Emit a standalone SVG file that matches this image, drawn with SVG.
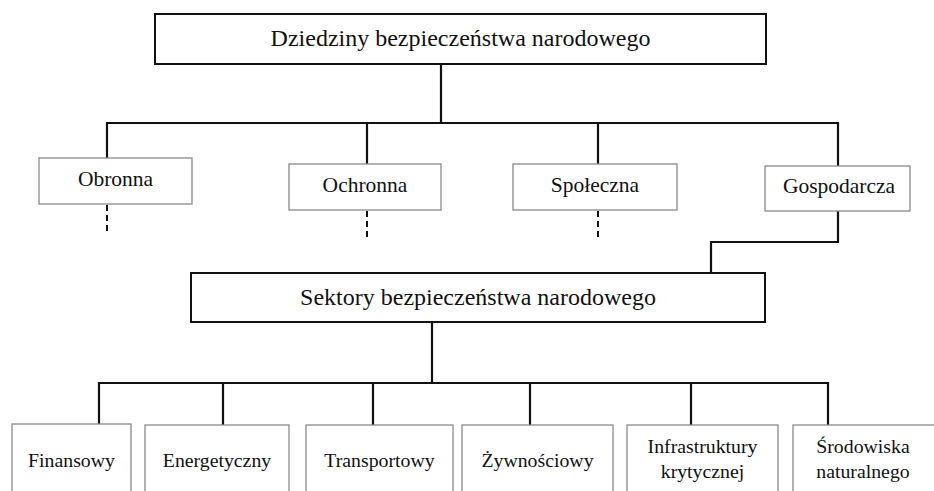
<svg xmlns="http://www.w3.org/2000/svg" width="934" height="491" viewBox="0 0 934 491">
  <style>
    text { font-family: "Liberation Serif", "Times New Roman", serif; fill: #111; text-anchor: middle; }
    .main { fill: #fff; stroke: #111; stroke-width: 2; }
    .sub { fill: #fff; stroke: #8a8a8a; stroke-width: 1.3; }
    .t-main { font-size: 24px; }
    .t-mid { font-size: 21.5px; }
    .t-low { font-size: 19.8px; }
    .link { fill: none; stroke: #111; stroke-width: 2.2; }
    .dash { fill: none; stroke: #111; stroke-width: 2; stroke-dasharray: 6 4; }
  </style>

  <rect width="934" height="491" fill="#fff"/>

  <!-- connectors -->
  <g id="connectors">
    <path class="link" d="M441 64 V123"/>
    <path class="link" d="M107 158 V123 H838 V166"/>
    <path class="link" d="M367 123 V164"/>
    <path class="link" d="M598 123 V164"/>
    <path class="link" d="M838 211 V242 H711 V273"/>
    <path class="dash" d="M107 205 V232"/>
    <path class="dash" d="M367 211 V238"/>
    <path class="dash" d="M598 211 V238"/>
    <path class="link" d="M432 322 V383"/>
    <path class="link" d="M99 424 V383 H828 V425"/>
    <path class="link" d="M223 383 V425"/>
    <path class="link" d="M373 383 V425"/>
    <path class="link" d="M530 383 V425"/>
    <path class="link" d="M691 383 V425"/>
  </g>

  <!-- domains -->
  <g id="dziedziny">
    <rect class="main" x="155" y="14" width="611" height="50"/>
    <text class="t-main" x="460.5" y="46">Dziedziny bezpieczeństwa narodowego</text>
  </g>
  <g id="obronna">
    <rect class="sub" x="39" y="158" width="153" height="46"/>
    <text class="t-mid" x="115.5" y="186">Obronna</text>
  </g>
  <g id="ochronna">
    <rect class="sub" x="289" y="164" width="152" height="46"/>
    <text class="t-mid" x="365" y="192">Ochronna</text>
  </g>
  <g id="spoleczna">
    <rect class="sub" x="513" y="164" width="164" height="46"/>
    <text class="t-mid" x="595" y="192">Społeczna</text>
  </g>
  <g id="gospodarcza">
    <rect class="sub" x="765" y="166" width="145" height="45"/>
    <text class="t-mid" x="839" y="193">Gospodarcza</text>
  </g>

  <!-- sectors -->
  <g id="sektory">
    <rect class="main" x="191" y="273" width="574" height="49"/>
    <text class="t-main" x="478" y="305">Sektory bezpieczeństwa narodowego</text>
  </g>
  <g id="finansowy">
    <rect class="sub" x="12" y="424" width="119" height="80"/>
    <text class="t-low" x="71.5" y="467">Finansowy</text>
  </g>
  <g id="energetyczny">
    <rect class="sub" x="145" y="425" width="144" height="80"/>
    <text class="t-low" x="217" y="467">Energetyczny</text>
  </g>
  <g id="transportowy">
    <rect class="sub" x="306" y="425" width="147" height="80"/>
    <text class="t-low" x="379.5" y="467">Transportowy</text>
  </g>
  <g id="zywnosciowy">
    <rect class="sub" x="462" y="425" width="151" height="80"/>
    <text class="t-low" x="537.5" y="467">Żywnościowy</text>
  </g>
  <g id="infrastruktury">
    <rect class="sub" x="627" y="425" width="151" height="80"/>
    <text class="t-low" x="702.5" y="453">Infrastruktury</text>
    <text class="t-low" x="702.5" y="478">krytycznej</text>
  </g>
  <g id="srodowiska">
    <rect class="sub" x="793" y="425" width="150" height="80"/>
    <text class="t-low" x="863" y="453">Środowiska</text>
    <text class="t-low" x="863" y="478">naturalnego</text>
  </g>
</svg>
